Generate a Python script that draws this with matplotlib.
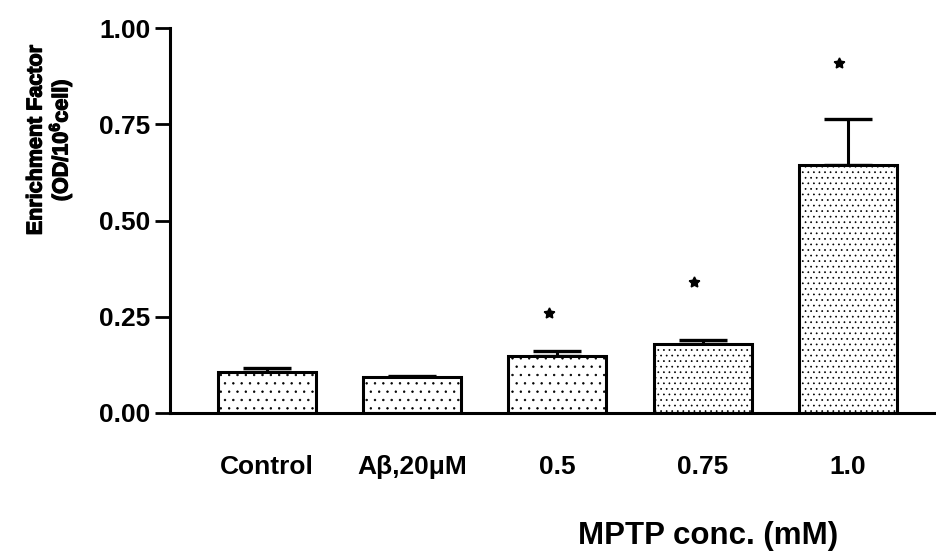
import matplotlib
matplotlib.use("Agg")
import matplotlib.pyplot as plt
import matplotlib.patheffects as pe
import numpy as np

categories = ["Control", "A\u03b2,20\u03bcM", "0.5", "0.75", "1.0"]
values = [0.106, 0.094, 0.148, 0.179, 0.644]
errors = [0.011, 0.003, 0.013, 0.011, 0.12]
star_y = [None, None, 0.26, 0.34, 0.91]
yticks = [0.00, 0.25, 0.50, 0.75, 1.00]
ytick_labels = ["0.00", "0.25", "0.50", "0.75", "1.00"]
hatches = ["..", "..", "..", "...", "..."]

plt.rcParams['font.family'] = ['Liberation Sans', 'DejaVu Sans']
plt.rcParams['mathtext.fontset'] = 'custom'
plt.rcParams['mathtext.rm'] = 'Liberation Sans:bold'
plt.rcParams['mathtext.it'] = 'Liberation Sans:bold'
plt.rcParams['mathtext.bf'] = 'Liberation Sans:bold'
plt.rcParams['hatch.color'] = '#b5b5b5'
plt.rcParams['hatch.linewidth'] = 0.5

fig = plt.figure(figsize=(9.36, 5.56), dpi=100)
ax = fig.add_axes([170/936, 1-413/556, 1-170/936, (413-28)/556])

x = np.arange(len(categories))
bars = ax.bar(x, values, width=0.675, color='white', edgecolor='black',
              linewidth=2.2, zorder=2)
for b, h in zip(bars, hatches):
    b.set_hatch(h)
ax.errorbar(x, values, yerr=[np.zeros(len(errors)), errors], fmt='none',
            ecolor='black', elinewidth=2.2, capsize=17, capthick=2.4, zorder=1)

for xi, sy in zip(x, star_y):
    if sy is not None:
        ax.plot(xi - 0.06, sy, marker=(5, 1, 0), markersize=8, color='black',
                linestyle='none')

ax.set_xlim(-0.668, 4.607)
ax.set_ylim(0, 1.0)
ax.set_yticks(yticks)
ax.set_yticklabels(ytick_labels, fontsize=19, fontweight='bold')
ax.set_xticks(x)
ax.set_xticklabels(categories, fontsize=19, fontweight='bold')
ax.tick_params(axis='x', length=0, pad=30)
ax.tick_params(axis='y', length=11, width=2, pad=3)
for s in ['top', 'right']:
    ax.spines[s].set_visible(False)
ax.spines['left'].set_linewidth(2.2)
ax.spines['bottom'].set_linewidth(2.2)

fig.text(708/936, 1-536/556, "MPTP conc. (mM)", fontsize=22.5, fontweight='bold',
         ha='center', va='center')
fig.text(50/936, 1-140/556, "Enrichment Factor\n(OD/10$^{6}$cell)", fontsize=15.5,
         fontweight='bold', rotation=90, ha='center', va='center',
         multialignment='center', linespacing=1.0,
         path_effects=[pe.withStroke(linewidth=0.9, foreground='black')])

fig.savefig("out.png", dpi=100)
